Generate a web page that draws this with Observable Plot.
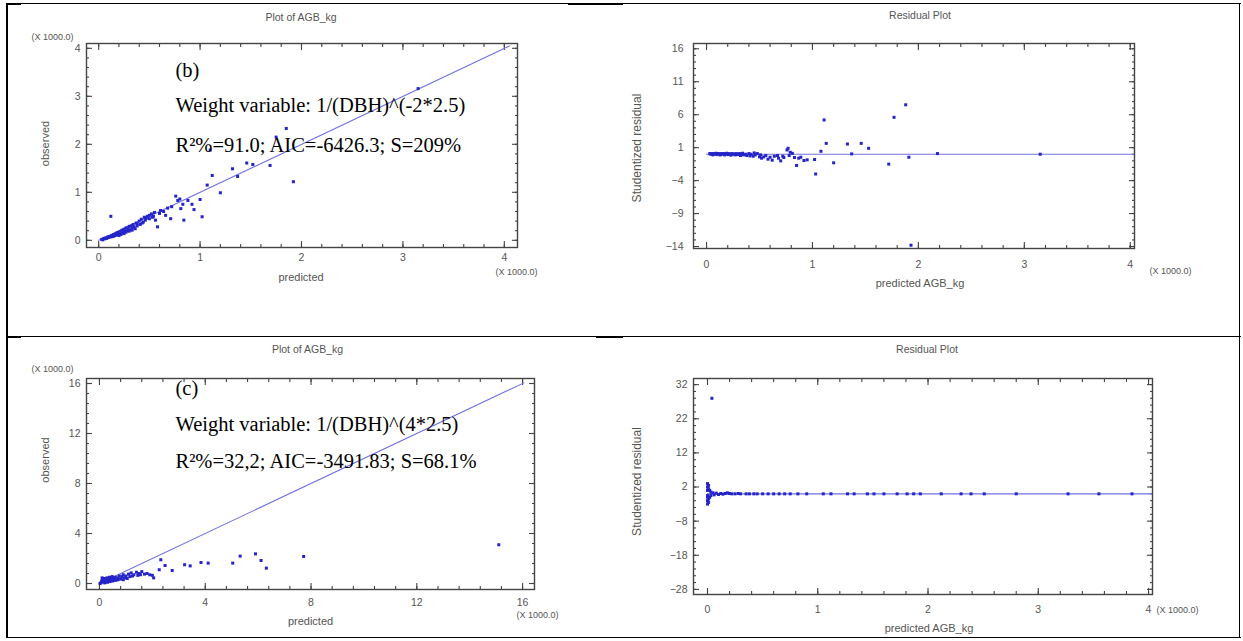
<!DOCTYPE html>
<html><head><meta charset="utf-8">
<script src="https://cdn.jsdelivr.net/npm/d3@7"></script>
<script src="https://cdn.jsdelivr.net/npm/@observablehq/plot@0.6"></script>
<style>
html,body{margin:0;padding:0;background:#fff}
body{width:1243px;height:641px;position:relative;overflow:hidden;font-family:"Liberation Sans",Arial,sans-serif}
.panel{position:absolute}
.bl{position:absolute;background:#000}
</style></head><body>
<div class="bl" style="left:6px;top:3px;width:1235px;height:1px"></div>
<div class="bl" style="left:6px;top:3px;width:15px;height:2px"></div>
<div class="bl" style="left:568px;top:3px;width:55px;height:2px"></div>
<div class="bl" style="left:6px;top:336px;width:1235px;height:1px"></div>
<div class="bl" style="left:6px;top:336px;width:15px;height:2px"></div>
<div class="bl" style="left:596px;top:336px;width:27px;height:2px"></div>
<div class="bl" style="left:6px;top:637px;width:1235px;height:1px"></div>
<div class="bl" style="left:6px;top:3px;width:2px;height:635px"></div>
<div class="bl" style="left:1239px;top:3px;width:1px;height:635px"></div>
<div id="tl" class="panel" style="left:0;top:0"></div>
<div id="tr" class="panel" style="left:600px;top:0"></div>
<div id="bl" class="panel" style="left:0;top:320px"></div>
<div id="br" class="panel" style="left:600px;top:320px"></div>
<script>
// ---------- Panel (b): observed vs predicted (x 1000 kg) ----------
const predB = [0.03,0.04,0.05,0.06,0.07,0.08,0.09,0.10,0.11,0.12,0.12,0.13,0.14,0.15,0.16,0.17,0.18,0.19,0.20,0.21,0.22,0.23,0.24,0.25,0.26,0.27,0.28,0.29,0.30,0.31,0.32,0.33,0.34,0.35,0.37,0.38,0.40,0.41,0.42,0.44,0.45,0.46,0.48,0.50,0.52,0.53,0.55,0.56,0.58,0.60,0.61,0.64,0.66,0.68,0.71,0.72,0.76,0.78,0.80,0.81,0.83,0.84,0.88,0.92,0.94,1.00,1.02,1.07,1.10,1.12,1.20,1.32,1.37,1.46,1.52,1.69,1.75,1.85,1.92,3.15,0.15,0.18,0.20,0.22,0.25,0.27,0.30,0.33,0.36,0.38,0.43,0.47,0.50,0.54];
const obsB  = [0.02,0.01,0.04,0.03,0.05,0.04,0.07,0.06,0.08,0.50,0.07,0.10,0.08,0.12,0.10,0.14,0.11,0.16,0.13,0.18,0.15,0.21,0.16,0.23,0.19,0.26,0.20,0.24,0.29,0.22,0.30,0.26,0.33,0.28,0.36,0.30,0.40,0.33,0.44,0.38,0.48,0.42,0.50,0.45,0.55,0.48,0.58,0.42,0.28,0.56,0.62,0.60,0.52,0.67,0.45,0.70,0.92,0.83,0.86,0.66,0.75,0.42,0.83,0.75,0.64,0.85,0.49,1.15,1.88,1.35,0.99,1.49,1.33,1.61,1.58,1.56,2.15,2.33,1.22,3.16,0.09,0.15,0.10,0.12,0.14,0.17,0.19,0.21,0.24,0.35,0.36,0.46,0.52,0.50];
const fitB = [0, 4.05];
const ticksB = [0, 1, 2, 3, 4];
const notesB = ["(b)", "Weight variable: 1/(DBH)^(-2*2.5)", "R²%=91.0; AIC=-6426.3; S=209%"];

// ---------- Residual plot for (b) ----------
const predRB  = [0.03,0.04,0.05,0.06,0.07,0.08,0.09,0.10,0.11,0.12,0.13,0.14,0.15,0.16,0.17,0.18,0.19,0.20,0.21,0.22,0.23,0.24,0.25,0.26,0.27,0.28,0.29,0.30,0.31,0.32,0.33,0.34,0.35,0.37,0.38,0.40,0.41,0.42,0.44,0.45,0.46,0.48,0.50,0.51,0.52,0.54,0.56,0.58,0.60,0.62,0.64,0.67,0.68,0.70,0.72,0.73,0.76,0.77,0.78,0.79,0.81,0.83,0.85,0.87,0.89,0.92,0.95,1.02,1.03,1.08,1.11,1.13,1.20,1.33,1.37,1.46,1.53,1.72,1.77,1.88,1.91,1.93,2.18,3.15];
const residRB = [0.1,0,0.1,-0.1,0.1,0,0.15,-0.05,0.1,0.05,-0.1,0.1,0,0.1,-0.1,0.05,0.15,-0.05,0.1,0,-0.15,0.1,0,0.05,-0.1,0.1,-0.05,0,0.1,-0.2,0,0.15,-0.1,0,-0.2,0.1,-0.25,0,-0.3,0.2,-0.1,0.1,-0.4,-0.1,-0.6,-0.4,-0.2,-0.75,-0.45,-0.9,-0.3,-0.2,-0.6,-1.0,-0.3,-0.5,0.65,0.9,-0.2,0.3,0.14,-0.5,-1.7,-0.6,-0.45,-0.95,-0.85,-0.8,-3.0,0.45,5.2,1.65,-1.3,1.55,0.05,1.65,0.9,-1.5,5.6,7.5,-0.45,-13.8,0.1,0.0];
const ticksRBx = [0, 1, 2, 3, 4];
const ticksRBy = [-14, -9, -4, 1, 6, 11, 16];

// ---------- Panel (c): observed vs predicted (x 1000 kg) ----------
const predC = [0.02,0.05,0.08,0.10,0.10,0.12,0.15,0.18,0.20,0.20,0.22,0.25,0.28,0.30,0.30,0.33,0.35,0.38,0.40,0.40,0.42,0.45,0.48,0.50,0.50,0.55,0.60,0.60,0.65,0.70,0.70,0.75,0.80,0.85,0.90,0.90,0.95,1.00,1.05,1.10,1.15,1.20,1.25,1.30,1.40,1.45,1.50,1.55,1.60,1.70,1.80,1.90,2.00,2.05,2.26,2.32,2.48,2.75,3.22,3.43,3.84,4.11,5.04,5.32,5.90,6.11,6.31,7.72,15.1];
const obsC  = [0.00,0.05,0.20,0.10,0.45,0.30,0.20,0.40,0.05,0.30,0.20,0.15,0.45,0.35,0.10,0.20,0.25,0.50,0.40,0.15,0.25,0.30,0.55,0.45,0.20,0.35,0.50,0.25,0.30,0.45,0.30,0.60,0.35,0.55,0.70,0.30,0.45,0.60,0.40,0.75,0.55,0.85,0.60,0.70,0.90,0.65,0.80,0.70,0.95,0.75,0.80,0.70,0.65,0.45,1.10,1.90,1.44,1.04,1.50,1.41,1.68,1.63,1.63,2.19,2.37,1.84,1.23,2.16,3.10];
const fitC = [0, 16.05];
const ticksC = [0, 4, 8, 12, 16];
const notesC = ["(c)", "Weight variable: 1/(DBH)^(4*2.5)", "R²%=32,2; AIC=-3491.83; S=68.1%"];

// ---------- Residual plot for (c) ----------
const predRC  = [0.00,0.00,0.00,0.00,0.00,0.00,0.00,0.01,0.01,0.01,0.01,0.02,0.02,0.03,0.03,0.04,0.05,0.06,0.08,0.10,0.12,0.14,0.16,0.18,0.20,0.22,0.25,0.28,0.30,0.35,0.38,0.42,0.45,0.50,0.55,0.60,0.65,0.70,0.75,0.82,0.90,1.05,1.12,1.27,1.33,1.45,1.51,1.60,1.72,1.81,1.87,1.93,2.12,2.30,2.39,2.51,2.80,3.27,3.55,3.85];
const residRC = [3.0,2.0,1.0,-1.0,-2.0,-3.0,-0.5,2.5,1.5,-1.5,-2.5,1.0,-1.0,0.5,-0.5,28.0,0.3,-0.3,0.2,-0.2,0.1,-0.1,0.1,0.3,0.1,0,0,0.1,0,0,0,0,0,0,0,0,0,0,0,0,0,0,0,0,0,0,0,0,0,0,0,0,0,0,0,0,0,0,0,0];
const ticksRCx = [0, 1, 2, 3, 4];
const ticksRCy = [-28, -18, -8, 2, 12, 22, 32];

const DOT = "#2424c8", LINE = "#7070e0", AX = "#444", TXT = "#555";

function range(lo, hi, step) { return d3.range(Math.round(lo/step), Math.round(hi/step) + 1).map(k => +(k*step).toFixed(6)); }

function panelMarks(c) {
  const xmin = range(c.xt[0], c.xt[c.xt.length-1], c.xm), ymin = range(c.yt[0], c.yt[c.yt.length-1], c.ym);
  const st = {stroke: AX, strokeWidth: 1.1, tickFormat: () => "", label: null};
  // inward tick marks on all four sides: axis ticks shifted back inside the frame
  const tk = (vals, side, len) =>
      side === "b" ? Plot.axisX(vals, {anchor: "bottom", tickSize: len, dy: -len, ...st})
    : side === "t" ? Plot.axisX(vals, {anchor: "top", tickSize: len, dy: len, ...st})
    : side === "l" ? Plot.axisY(vals, {anchor: "left", tickSize: len, dx: len, ...st})
    : Plot.axisY(vals, {anchor: "right", tickSize: len, dx: -len, ...st});
  const idx = d3.range(c.px.length);
  const lab = {fill: TXT, textAnchor: "middle", lineAnchor: "middle"};
  const m = [
    tk(xmin, "b", 3), tk(xmin, "t", 3), tk(ymin, "l", 3), tk(ymin, "r", 3),
    tk(c.xt, "b", 6), tk(c.xt, "t", 6), tk(c.yt, "l", 6), tk(c.yt, "r", 6),
    Plot.frame({stroke: AX, strokeWidth: 1.4}),
    Plot.axisX(c.xt, {anchor: "bottom", tickSize: 0, tickPadding: c.xpad, fontSize: 10.5, color: TXT, label: null}),
    Plot.axisY(c.yt, {anchor: "left", tickSize: 0, tickPadding: c.ypad, fontSize: 10.5, color: TXT, label: null}),
    c.fit ? Plot.line(c.fit, {x: d => d, y: d => d, stroke: LINE, strokeWidth: 1.1})
          : Plot.ruleY([0], {y: d => d, x1: () => c.xt[0], x2: () => c.xd[1], stroke: LINE, strokeWidth: 1.1}),
    Plot.dot(idx, {x: i => c.px[i], y: i => c.py[i], r: 1.7, fill: DOT, symbol: "square"}),
    Plot.text([c.title], {frameAnchor: "top", dx: c.titleDx, dy: c.titleDy, fontSize: 10.5, ...lab}),
    Plot.text([c.xlabel], {frameAnchor: "bottom", dx: c.xlDx, dy: c.xlDy, fontSize: 11, ...lab}),
    Plot.text([c.ylabel], {frameAnchor: "left", dx: c.ylDx, dy: c.ylDy, rotate: -90, fontSize: c.ylSize, ...lab}),
    Plot.text(["(X 1000.0)"], {frameAnchor: "bottom-right", dx: c.xuDx, dy: c.xuDy, fontSize: 9, ...lab})
  ];
  if (c.yunit) m.push(Plot.text(["(X 1000.0)"], {frameAnchor: "top-left", dx: -34, dy: c.yuDy, fontSize: 9, ...lab}));
  if (c.notes) c.notes.forEach((t, i) => m.push(Plot.text([t], {frameAnchor: "top-left", textAnchor: "start", lineAnchor: "middle",
    dx: 89, dy: c.notesDy[i], fontSize: 20.5, fontFamily: "Liberation Serif, Times New Roman, serif", fill: "#000"})));
  return m;
}

function panel(c) {
  return Plot.plot({
    width: c.width, height: c.height,
    marginTop: c.mt, marginRight: c.mr, marginBottom: c.mb, marginLeft: c.ml,
    x: {domain: c.xd}, y: {domain: c.yd},
    style: {fontFamily: "Liberation Sans, Arial, sans-serif", background: "transparent", overflow: "visible"},
    marks: panelMarks(c)
  });
}

const cfgTL = {width: 600, height: 320, mt: 43, mr: 83, mb: 73, ml: 86,
  xd: [-0.12, 4.13], yd: [-0.15, 4.1], xt: ticksB, yt: ticksB, xm: 0.2, ym: 0.2,
  px: predB, py: obsB, fit: fitB, xpad: 6, ypad: 6,
  title: "Plot of AGB_kg", titleDx: -1, titleDy: -26,
  xlabel: "predicted", xlDx: -1, xlDy: 30, ylabel: "observed", ylSize: 11, ylDx: -41, ylDy: -2,
  xuDx: -1, xuDy: 25, yunit: true, yuDy: -6, notes: notesB, notesDy: [27, 62, 102]};
const cfgTR = {width: 643, height: 320, mt: 43, mr: 109, mb: 72, ml: 93,
  xd: [-0.123, 4.04], yd: [-14.3, 16.8], xt: ticksRBx, yt: ticksRBy, xm: 0.2, ym: 1,
  px: predRB, py: residRB, fit: null, xpad: 12, ypad: 10,
  title: "Residual Plot", titleDx: 6, titleDy: -28,
  xlabel: "predicted AGB_kg", xlDx: 6, xlDy: 35, ylabel: "Studentized residual", ylSize: 12, ylDx: -56, ylDy: 2,
  xuDx: 36, xuDy: 23};
const cfgBL = {width: 600, height: 321, mt: 58, mr: 66, mb: 52, ml: 86,
  xd: [-0.49, 16.45], yd: [-0.48, 16.4], xt: ticksC, yt: ticksC, xm: 0.8, ym: 0.8,
  px: predC, py: obsC, fit: fitC, xpad: 9, ypad: 6,
  title: "Plot of AGB_kg", titleDx: -3, titleDy: -29,
  xlabel: "predicted", xlDx: 0, xlDy: 32, ylabel: "observed", ylSize: 11, ylDx: -41, ylDy: -24,
  xuDx: 3, xuDy: 26, yunit: true, yuDy: -9, notes: notesC, notesDy: [10, 46, 83]};
const cfgBR = {width: 643, height: 321, mt: 58, mr: 91, mb: 47, ml: 93,
  xd: [-0.127, 4.036], yd: [-29.5, 33.8], xt: ticksRCx, yt: ticksRCy, xm: 0.2, ym: 2,
  px: predRC, py: residRC, fit: null, xpad: 11, ypad: 6,
  title: "Residual Plot", titleDx: 4, titleDy: -29,
  xlabel: "predicted AGB_kg", xlDx: 6, xlDy: 34, ylabel: "Studentized residual", ylSize: 12, ylDx: -56, ylDy: -5,
  xuDx: 25, xuDy: 16};

document.getElementById("tl").append(panel(cfgTL));
document.getElementById("tr").append(panel(cfgTR));
document.getElementById("bl").append(panel(cfgBL));
document.getElementById("br").append(panel(cfgBR));
</script>
</body></html>
